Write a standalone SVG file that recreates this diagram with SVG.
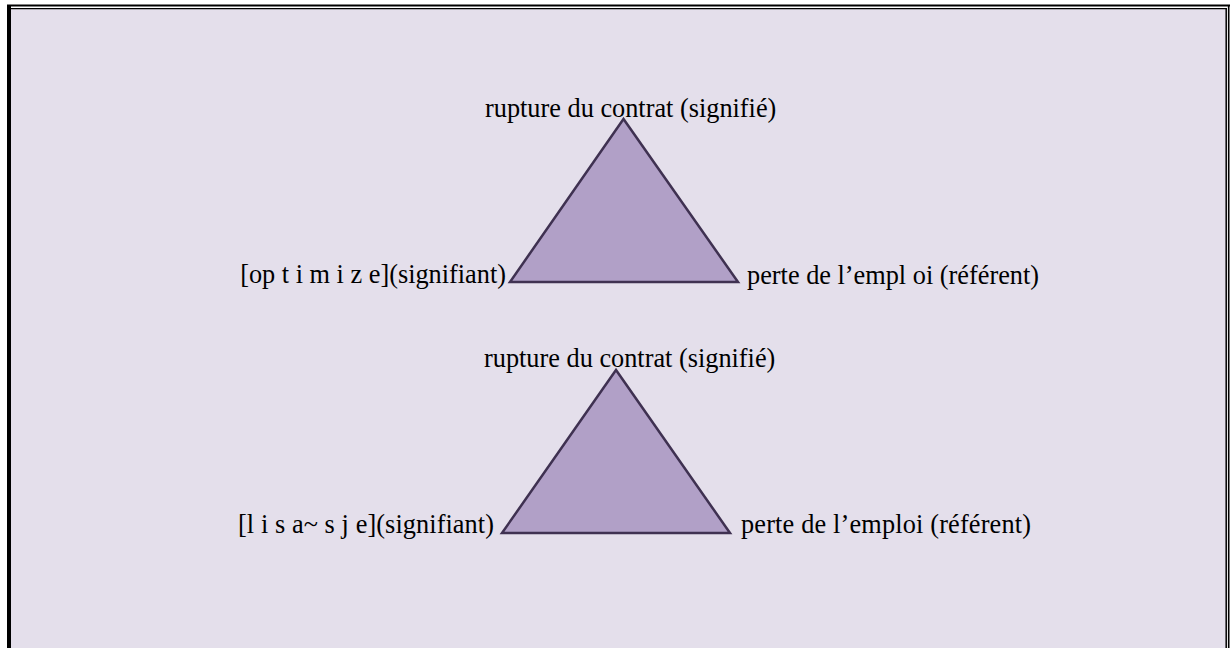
<svg xmlns="http://www.w3.org/2000/svg" width="1230" height="648" viewBox="0 0 1230 648">
<style>
.lbl{font-family:"Liberation Serif","Times New Roman",serif;font-size:26.3px;fill:#000}
.tri{fill:#B1A0C7;stroke:#3F3151;stroke-width:2.5;stroke-linejoin:miter}
</style>
<rect x="0" y="0" width="1230" height="648" fill="#FFFFFF"/>
<rect x="10" y="8" width="1216" height="640" fill="#E4DFEB"/>
<g id="frame" fill="none" stroke="#000">
<line x1="7" y1="5.5" x2="1230" y2="5.5" stroke-width="1.8"/>
<line x1="9" y1="5" x2="9" y2="648" stroke-width="4"/>
<line x1="1228.7" y1="5" x2="1228.7" y2="648" stroke-width="1.6"/>
<line x1="11" y1="8.6" x2="1226.5" y2="8.6" stroke-width="1.2"/>
<line x1="1226.2" y1="8" x2="1226.2" y2="648" stroke-width="1.5"/>
</g>
<g id="connectors"></g>
<g id="triangle1">
<polygon class="tri" points="623.5,119 510,282 738,282"/>
</g>
<g id="triangle2">
<polygon class="tri" points="616,370 502,533 730,533"/>
</g>
<g id="node-signifie1"><text class="lbl" x="485" y="117">rupture du contrat (signifié)</text></g>
<g id="node-signifiant1"><text class="lbl" x="506" y="283" text-anchor="end">[op t i m i z e](signifiant)</text></g>
<g id="node-referent1"><text class="lbl" x="747" y="284">perte de l’empl oi (référent)</text></g>
<g id="node-signifie2"><text class="lbl" x="484" y="367">rupture du contrat (signifié)</text></g>
<g id="node-signifiant2"><text class="lbl" x="238" y="533" textLength="256" lengthAdjust="spacing">[l i s a~ s j e](signifiant)</text></g>
<g id="node-referent2"><text class="lbl" x="741" y="533" textLength="290" lengthAdjust="spacing">perte de l’emploi (référent)</text></g>
</svg>
